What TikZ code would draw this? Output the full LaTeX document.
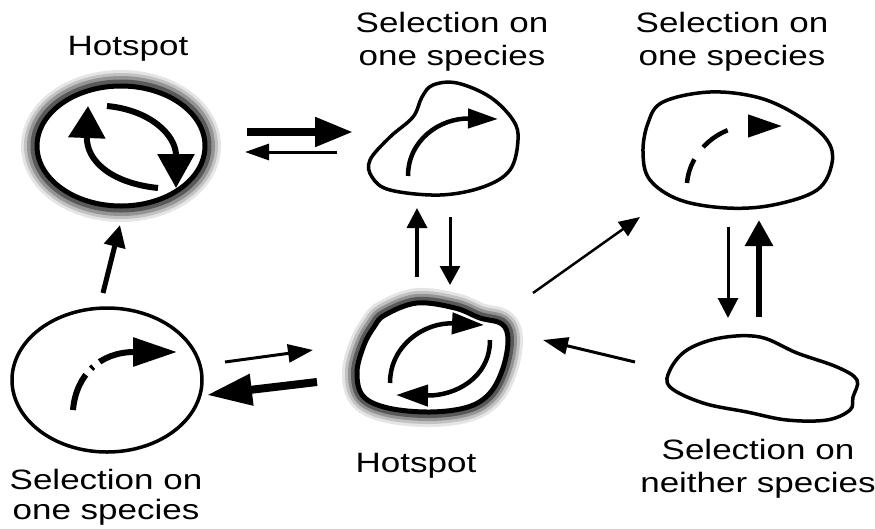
\documentclass[tikz,border=0pt]{standalone}
\usepackage{fontspec}
\setmainfont{Liberation Sans}[FakeStretch=1.25]
\usetikzlibrary{arrows.meta}
\tikzset{
  lab/.style={align=center, inner sep=0pt, anchor=base, font=\fontsize{28}{33}\selectfont},
  rim/.style={line width=3.5pt, line join=round},
  thinarr/.style={line width=3pt, -{Triangle[length=24pt,width=16pt]}},
  thickarr/.style={line width=8pt, -{Triangle[length=38pt,width=28pt]}},
  inarr/.style={line width=4.5pt, -{Triangle[length=32pt,width=21pt]}},
}
\begin{document}
\begin{tikzpicture}[x=1pt,y=-1pt]
\useasboundingbox (0,0) rectangle (875,528);

% ---------- labels (anchor = baseline of last line) ----------
\node[lab] (hsA) at (128,55) {Hotspot};
\node[lab] (selA) at (452,65) {Selection on\\one species};
\node[lab] (selB) at (732,65) {Selection on\\one species};
\node[lab,font=\fontsize{28}{30}\selectfont] (selC) at (106,519) {Selection on\\one species};
\node[lab] (hsB) at (416,472) {Hotspot};
\node[lab] (selD) at (758,492) {Selection on\\neither species};

% ---------- top-left hotspot ----------
\foreach \w/\c in {32/10, 26/24, 20/42, 13/65}
  \draw[line width=\w pt, black!\c] (121,146) ellipse [x radius=84, y radius=60];
\fill[white] (121,146) ellipse [x radius=84, y radius=60];
\draw[rim, line width=5pt] (121,146) ellipse [x radius=84, y radius=60];
\draw[line width=6pt, -{Triangle[length=32pt,width=36pt]}] (158,188) .. controls (110,183) and (86,160) .. (88,106);
\draw[line width=6pt, -{Triangle[length=34pt,width=36pt]}] (107,106) .. controls (150,110) and (176,135) .. (176,188);

% ---------- bottom-middle hotspot ----------
\foreach \w/\c in {30/10, 24/24, 18/42, 12/65}
  \draw[line width=\w pt, black!\c, line join=round] plot[smooth cycle, tension=0.6] coordinates {(385,315) (417,303) (455,308) (480,318) (502,324) (508,340) (503,368) (490,393) (468,407) (430,412) (388,408) (363,396) (357,372) (364,345) (374,327)};
\fill[white] plot[smooth cycle, tension=0.6] coordinates {(385,315) (417,303) (455,308) (480,318) (502,324) (508,340) (503,368) (490,393) (468,407) (430,412) (388,408) (363,396) (357,372) (364,345) (374,327)};
\draw[rim, line width=5pt] plot[smooth cycle, tension=0.6] coordinates {(385,315) (417,303) (455,308) (480,318) (502,324) (508,340) (503,368) (490,393) (468,407) (430,412) (388,408) (363,396) (357,372) (364,345) (374,327)};
\draw[inarr] (390,383) .. controls (390,345) and (425,322) .. (484,325);
\draw[inarr] (490,340) .. controls (490,378) and (455,396) .. (396,395);

% ---------- top-middle blob ----------
\draw[rim] plot[smooth cycle, tension=0.6] coordinates {(370,160) (390,137) (413,117) (422,97) (433,85) (457,83) (490,97) (513,120) (518,140) (510,170) (483,187) (440,195) (390,190) (372,177)};
\draw[inarr, -{Triangle[length=30pt,width=19pt]}] (408,176) .. controls (408,140) and (440,118) .. (498,119);

% ---------- top-right egg ----------
\draw[rim] plot[smooth cycle, tension=0.6] coordinates {(663,102) (710,92) (760,98) (800,117) (827,140) (832,163) (817,190) (773,205) (727,208) (680,200) (650,180) (643,153) (648,123)};
\draw[line width=4.5pt, dash pattern=on 25pt off 15pt on 30pt off 60pt, -{Triangle[length=34pt,width=22pt]}] (687,183) .. controls (690,150) and (720,126) .. (782,126);

% ---------- bottom-left circle ----------
\draw[rim] (107,380) ellipse [x radius=95, y radius=72];
\draw[line width=6pt, dash pattern=on 38pt off 8pt on 3pt off 8pt on 200pt, -{Triangle[length=44pt,width=28pt]}] (73,410) .. controls (76,375) and (100,352) .. (177,352);

% ---------- bottom-right blob ----------
\draw[rim] plot[smooth cycle, tension=0.6] coordinates {(670,370) (687,350) (720,338) (760,337) (797,353) (837,367) (857,380) (853,397) (850,410) (827,420) (787,420) (747,412) (703,403) (670,387)};

% ---------- connector end points ----------
\coordinate (a1s) at (247,132); \coordinate (a1e) at (353,132);
\coordinate (a2s) at (337,152); \coordinate (a2e) at (245,152);
\coordinate (a3s) at (417,277); \coordinate (a3e) at (417,208);
\coordinate (a4s) at (450,217); \coordinate (a4e) at (450,285);
\coordinate (a5s) at (533,293); \coordinate (a5e) at (640,217);
\coordinate (a6s) at (635,362); \coordinate (a6e) at (543,340);
\coordinate (a7s) at (728,227); \coordinate (a7e) at (728,318);
\coordinate (a8s) at (759,317); \coordinate (a8e) at (759,220);
\coordinate (a9s) at (103,293); \coordinate (a9e) at (120,225);
\coordinate (a10s) at (225,362); \coordinate (a10e) at (313,350);
\coordinate (a11s) at (317,382); \coordinate (a11e) at (207,395);

% ---------- connectors ----------
\draw[thickarr] (a1s) -- (a1e);
\draw[thinarr] (a2s) -- (a2e);
\draw[thinarr, line width=3.5pt, -{Triangle[length=20pt,width=20pt]}] (a3s) -- (a3e);
\draw[thinarr, -{Triangle[length=19pt,width=20pt]}] (a4s) -- (a4e);
\draw[thinarr, line width=2.5pt, -{Triangle[length=21pt,width=17pt]}] (a5s) -- (a5e);
\draw[thinarr, -{Triangle[length=25pt,width=17pt]}] (a6s) -- (a6e);
\draw[thinarr, -{Triangle[length=20pt,width=20pt]}] (a7s) -- (a7e);
\draw[thickarr, line width=6pt, -{Triangle[length=26pt,width=27pt]}] (a8s) -- (a8e);
\draw[thickarr, line width=5pt, -{Triangle[length=22pt,width=21pt]}] (a9s) -- (a9e);
\draw[thinarr, -{Triangle[length=25pt,width=18pt]}] (a10s) -- (a10e);
\draw[thickarr, line width=8pt, -{Triangle[length=45pt,width=30pt]}] (a11s) -- (a11e);
\end{tikzpicture}
\end{document}
